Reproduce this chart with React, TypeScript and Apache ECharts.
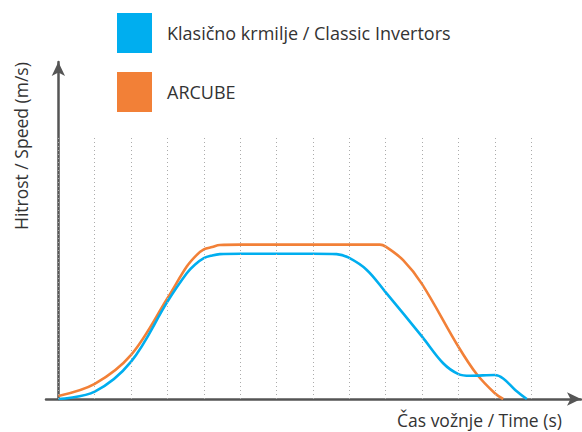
import React, { useEffect, useRef } from "react";
import * as echarts from "echarts";

// Series names
const seriesNames = ["Klasično krmilje / Classic Invertors", "ARCUBE"];
const seriesColors = ["#00AEEF", "#F28037"];

// Classic invertors (blue) – time units, speed (% of axis height)
const blueTime = [0, 1, 2, 3, 3.53, 3.76, 4, 4.23, 4.44, 5, 6, 7, 7.65, 7.97, 8.48, 8.99, 10, 10.58, 11, 11.33, 12, 12.23, 12.56, 12.88];
const blueSpeed = [0, 2.2, 11.1, 28.9, 37.3, 39.9, 41.8, 42.6, 43.0, 43.1, 43.1, 43.1, 43.0, 42.0, 38.3, 31.8, 18.5, 10.6, 7.4, 6.9, 7.1, 6.1, 2.7, 0];

// ARCUBE (orange)
const orangeTime = [0, 1, 2, 3, 3.53, 3.8, 4, 4.23, 4.44, 5, 6, 7, 8, 8.84, 9, 9.48, 10, 11, 11.5, 12, 12.23];
const orangeSpeed = [0.9, 4.5, 13.1, 29.9, 39.3, 42.7, 44.4, 45.1, 45.7, 45.8, 45.8, 45.8, 45.8, 45.8, 45.2, 41.2, 34.1, 15.5, 7.4, 1.7, 0];

// Vertical dotted guide lines (time positions) and their top
const gridTimes = [0, 1, 2, 3, 4, 5, 6, 7, 8, 9, 10, 11, 12, 13];
const gridTop = 77.7;

const xName = "Čas vožnje / Time (s)";
const yName = "Hitrost / Speed (m/s)";

const FONT = "'Open Sans', sans-serif";

export default function App() {
  const ref = useRef<HTMLDivElement>(null);
  useEffect(() => {
    if (!ref.current) return;
    const chart = echarts.init(ref.current, null, { renderer: "svg" });
    const pair = (xs: number[], ys: number[]) => xs.map((x, i) => [x, ys[i]]);
    chart.setOption({
      animation: false,
      backgroundColor: "#ffffff",
      textStyle: { fontFamily: FONT },
      legend: {
        orient: "vertical",
        left: 117,
        top: 13,
        padding: 0,
        itemWidth: 35,
        itemHeight: 40,
        itemGap: 19,
        icon: "rect",
        data: seriesNames,
        textStyle: { fontSize: 18, color: "#333333", fontFamily: FONT, padding: [4, 0, 0, 10] },
      },
      grid: { left: 46, right: 1, top: 62, bottom: 33, containLabel: false },
      xAxis: {
        type: "value",
        min: -0.34,
        max: 14.37,
        axisLine: {
          show: true,
          symbol: ["none", "arrow"],
          symbolSize: [10, 14],
          lineStyle: { color: "#555555", width: 2.5 },
        },
        axisTick: { show: false },
        axisLabel: { show: false },
        splitLine: { show: false },
      },
      yAxis: {
        type: "value",
        min: 0,
        max: 100,
        axisLine: {
          show: true,
          symbol: ["none", "arrow"],
          symbolSize: [10, 14],
          lineStyle: { color: "#555555", width: 2.5 },
        },
        axisTick: { show: false },
        axisLabel: { show: false },
        splitLine: { show: false },
      },
      graphic: [
        {
          type: "text",
          left: 397,
          top: 411,
          style: { text: xName, fontSize: 17.5, fill: "#333333", fontFamily: FONT },
        },
        {
          type: "text",
          x: 12,
          y: 230,
          rotation: Math.PI / 2,
          style: { text: yName, fontSize: 17.5, fill: "#333333", fontFamily: FONT },
        },
      ],
      series: [
        {
          name: "guides",
          type: "line",
          data: [],
          silent: true,
          z: 1,
          markLine: {
            silent: true,
            symbol: ["none", "none"],
            label: { show: false },
            lineStyle: { type: [1, 3], color: "#ababab", width: 1 },
            data: gridTimes.map((t) => [{ coord: [t, 0] }, { coord: [t, gridTop] }]),
          },
        },
        {
          name: seriesNames[0],
          type: "line",
          data: pair(blueTime, blueSpeed),
          smooth: 0.35,
          showSymbol: false,
          color: seriesColors[0],
          lineStyle: { width: 2.6, color: seriesColors[0] },
          z: 3,
        },
        {
          name: seriesNames[1],
          type: "line",
          data: pair(orangeTime, orangeSpeed),
          smooth: 0.35,
          showSymbol: false,
          color: seriesColors[1],
          lineStyle: { width: 2.6, color: seriesColors[1] },
          z: 2,
        },
      ],
    });
    return () => chart.dispose();
  }, []);
  return (
    <div
      ref={ref}
      style={{ position: "fixed", left: 0, top: 0, width: 582, height: 432 }}
    />
  );
}
